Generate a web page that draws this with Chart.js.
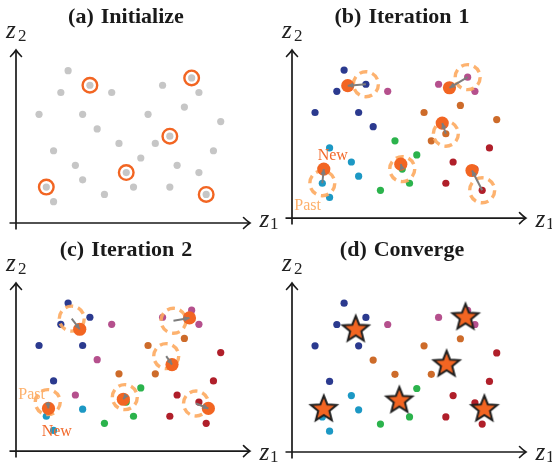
<!DOCTYPE html>
<html><head><meta charset="utf-8">
<script src="https://cdn.jsdelivr.net/npm/chart.js@4.4.0/dist/chart.umd.min.js"></script>
<style>
html,body{margin:0;padding:0;background:#fff;}
#wrap{position:relative;width:552px;height:467px;overflow:hidden;background:#fff;}
.panel{position:absolute;width:276px;height:234px;overflow:visible;}
.panel canvas{position:absolute;left:0;top:0;}
.t{position:absolute;left:0;top:5px;width:252px;text-align:center;font-family:"Liberation Serif","Times New Roman",serif;font-weight:bold;font-size:22px;line-height:22px;white-space:nowrap;word-spacing:1.5px;color:#1a1a1a;}
.z{position:absolute;font-family:"Liberation Serif","Times New Roman",serif;font-style:italic;font-size:25px;line-height:25px;color:#222;white-space:nowrap;}
.s{position:absolute;font-family:"Liberation Serif","Times New Roman",serif;font-size:17px;line-height:17px;color:#222;white-space:nowrap;}
.note{position:absolute;font-family:"Liberation Serif","Times New Roman",serif;font-size:16px;line-height:16px;white-space:nowrap;}
</style>
</head><body>
<div id="wrap">
  <div class="panel" style="left:0;top:0;">
    <canvas id="cA" width="276" height="234"></canvas>
    <div class="t">(a) Initialize</div>
    <span class="z" style="left:6px;top:17.4px;">z</span><span class="s" style="left:18px;top:26.5px;">2</span>
    <span class="z" style="left:259.5px;top:206.1px;">z</span><span class="s" style="left:270px;top:215.3px;">1</span>
  </div>
  <div class="panel" style="left:276px;top:0;">
    <canvas id="cB" width="276" height="234"></canvas>
    <div class="t">(b) Iteration 1</div>
    <span class="z" style="left:6px;top:17.4px;">z</span><span class="s" style="left:18px;top:26.5px;">2</span>
    <span class="z" style="left:259.5px;top:206.1px;">z</span><span class="s" style="left:270px;top:215.3px;">1</span>
    <span class="note" style="left:41.7px;top:146.6px;color:#f26a2c;">New</span>
    <span class="note" style="left:18.3px;top:197.3px;color:#fdb06b;">Past</span>
  </div>
  <div class="panel" style="left:0;top:233px;">
    <canvas id="cC" width="276" height="234"></canvas>
    <div class="t">(c) Iteration 2</div>
    <span class="z" style="left:6px;top:17.4px;">z</span><span class="s" style="left:18px;top:26.5px;">2</span>
    <span class="z" style="left:259.5px;top:206.1px;">z</span><span class="s" style="left:270px;top:215.3px;">1</span>
    <span class="note" style="left:18.3px;top:153.3px;color:#fdb06b;">Past</span>
    <span class="note" style="left:41.7px;top:189.9px;color:#f26a2c;">New</span>
  </div>
  <div class="panel" style="left:276px;top:233px;">
    <canvas id="cD" width="276" height="234"></canvas>
    <div class="t">(d) Converge</div>
    <span class="z" style="left:6px;top:17.4px;">z</span><span class="s" style="left:18px;top:26.5px;">2</span>
    <span class="z" style="left:259.5px;top:206.1px;">z</span><span class="s" style="left:270px;top:215.3px;">1</span>
  </div>
</div>
<script>
// ---- data (grid units) ----
const pointX = [7,10,6,13,20,24,25,3,9,18, 23,28,11,21,14,19,5,27,17,8, 22,15,25,9,4,16,21,12,26,5];
const pointY = [21,19,18,18,19,20,18,15,15,15, 16,14,13,12,11,11,10,10,9,8, 8,7,7,6,5,5,5,4,4,3];
// cluster index per point: 0 navy, 1 magenta, 2 orange, 3 teal, 4 red, 5 green
const assignB = [0,0,0,1,1,1,1,0,0,2, 2,2,0,2,5,2,3,4,5,3, 4,5,4,3,3,5,4,5,4,3];
const assignC = [0,0,0,1,1,1,1,0,0,2, 2,4,1,2,2,2,0,4,5,1, 4,5,4,3,3,5,4,5,4,3];
const assignD = [0,0,0,1,1,1,1,0,0,2, 2,4,2,2,2,2,0,4,5,3, 4,5,4,3,3,5,4,5,4,3];
const initCX  = [10,24,21,15,4,26];
const initCY  = [19,20,12,7,5,4];
const iter1CX = [7.5,21.5,20.5,14.8,4.2,24.6];
const iter1CY = [18.8,18.5,13.5,7.7,7.0,6.8];
const iter2CX = [8.6,23.7,21.3,14.6,4.3,26.3];
const iter2CY = [17.3,18.9,12.3,7.4,6.1,6.1];
const convCX  = [8.6,23.7,21.1,14.6,4.2,26.3];
const convCY  = [17.3,19.0,12.4,7.3,6.1,6.1];
const xRange = [-0.17, 32.03];
const yRange = [0.07, 23.84];

// ---- styles ----
const clusterColors = ['#2b3a8f','#b5508d','#cd6b2a','#1c98c4','#b01f2a','#2bb34c'];
const GRAY = '#c6c6c6', ORANGE = '#f26522', PAST = 'rgba(253,170,95,0.9)', ARROW = '#7d7d7d';

function pts(xs, ys){ return xs.map((x,i)=>({x:x, y:ys[i]})); }

function makeStar(R, r, fill, stroke, lw){
  const s = Math.ceil(2*R + 2*lw + 4);
  const c = document.createElement('canvas'); c.width = s; c.height = s;
  const g = c.getContext('2d');
  g.translate(s/2, s/2);
  g.beginPath();
  for (let k=0;k<10;k++){
    const rad = (k%2===0)? R : r;
    const a = -Math.PI/2 + k*Math.PI/5;
    const px = rad*Math.cos(a), py = rad*Math.sin(a);
    if (k===0) g.moveTo(px,py); else g.lineTo(px,py);
  }
  g.closePath();
  g.fillStyle = fill; g.fill();
  g.lineWidth = lw; g.strokeStyle = stroke; g.lineJoin = 'miter'; g.stroke();
  return c;
}
const starImg = makeStar(13.6, 5.9, ORANGE, '#1e1e1e', 2);

const helperPlugin = {
  id: 'helper',
  beforeDatasetsDraw(chart){
    const ctx = chart.ctx, a = chart.chartArea;
    const l = a.left, b = a.bottom, t = a.top, r = a.right;
    ctx.save();
    ctx.strokeStyle = '#1a1a1a'; ctx.lineWidth = 1.7; ctx.lineCap = 'butt';
    ctx.beginPath();
    ctx.moveTo(l, b+6.5); ctx.lineTo(l, t+0.5);
    ctx.moveTo(l-6.5, b); ctx.lineTo(r-0.5, b);
    ctx.stroke();
    ctx.lineWidth = 1.6; ctx.lineCap = 'round';
    ctx.beginPath();
    ctx.moveTo(l-5.5, t+6.5); ctx.quadraticCurveTo(l-1.5, t+2.5, l, t);
    ctx.quadraticCurveTo(l+1.5, t+2.5, l+5.5, t+6.5);
    ctx.moveTo(r-6.5, b-5.5); ctx.quadraticCurveTo(r-2.5, b-1.5, r, b);
    ctx.quadraticCurveTo(r-2.5, b+1.5, r-6.5, b+5.5);
    ctx.stroke();
    ctx.restore();
  },
  beforeDatasetDraw(chart, args){
    const ds = chart.data.datasets[args.index];
    if (ds.dash){ chart.ctx.save(); chart.ctx.setLineDash(ds.dash); }
  },
  afterDatasetDraw(chart, args){
    const ds = chart.data.datasets[args.index];
    const ctx = chart.ctx;
    if (ds.dash){ ctx.restore(); }
    if (ds.arrow){
      const m = args.meta.data; const p0 = m[0], p1 = m[1];
      const ang = Math.atan2(p1.y-p0.y, p1.x-p0.x);
      const c = Math.cos(ang), s = Math.sin(ang);
      const L = 5.5, W = 2.8;
      const tx = p1.x, ty = p1.y;
      ctx.save();
      ctx.fillStyle = ARROW;
      ctx.beginPath();
      ctx.moveTo(tx, ty);
      ctx.lineTo(tx - L*c + W*s, ty - L*s - W*c);
      ctx.lineTo(tx - L*c - W*s, ty - L*s + W*c);
      ctx.closePath(); ctx.fill();
      ctx.restore();
    }
  }
};

function pointsDS(assign){
  return {
    data: pts(pointX, pointY),
    pointRadius: 3.6, pointBorderWidth: 0,
    pointBackgroundColor: assign ? assign.map(k=>clusterColors[k]) : GRAY,
    order: 5
  };
}
function ringDS(xs, ys){
  return { data: pts(xs, ys), pointRadius: 12.5, pointBorderWidth: 3.4,
    pointBorderColor: PAST, pointBackgroundColor: 'rgba(0,0,0,0)', dash: [8,5], order: 4 };
}
function centroidDS(xs, ys){
  return { data: pts(xs, ys), pointRadius: 6.6, pointBorderWidth: 0,
    pointBackgroundColor: ORANGE, order: 3 };
}
function arrowDSs(fx, fy, tx, ty){
  return fx.map((x,i)=>({ data: [{x:x, y:fy[i]}, {x:tx[i], y:ty[i]}],
    showLine: true, borderColor: ARROW, borderWidth: 2, pointRadius: 0, arrow: true, order: 2 }));
}

function makeChart(id, datasets){
  return new Chart(document.getElementById(id), {
    type: 'scatter',
    data: { datasets: datasets },
    options: {
      responsive: false, animation: false, events: [],
      layout: { padding: { left: 16, top: 50, right: 26, bottom: 11 } },
      plugins: { legend: { display: false }, tooltip: { enabled: false }, title: { display: false } },
      scales: {
        x: { type: 'linear', min: xRange[0], max: xRange[1], display: false },
        y: { type: 'linear', min: yRange[0], max: yRange[1], display: false }
      },
      clip: false
    },
    plugins: [helperPlugin]
  });
}

makeChart('cA', [
  pointsDS(null),
  { data: pts(initCX, initCY), pointRadius: 7.3, pointBorderWidth: 2.4,
    pointBorderColor: ORANGE, pointBackgroundColor: 'rgba(0,0,0,0)', order: 4 }
]);
makeChart('cB', [pointsDS(assignB), ringDS(initCX, initCY), centroidDS(iter1CX, iter1CY)]
  .concat(arrowDSs(initCX, initCY, iter1CX, iter1CY)));
makeChart('cC', [pointsDS(assignC), ringDS(iter1CX, iter1CY), centroidDS(iter2CX, iter2CY)]
  .concat(arrowDSs(iter1CX, iter1CY, iter2CX, iter2CY)));
makeChart('cD', [pointsDS(assignD),
  { data: pts(convCX, convCY), pointStyle: starImg, pointRadius: 14, order: 3 }]);
</script>
</body></html>
